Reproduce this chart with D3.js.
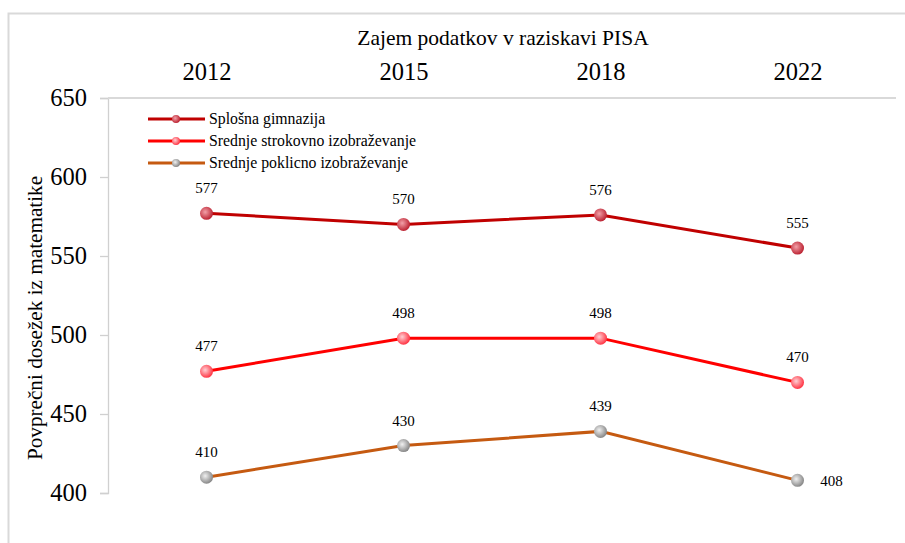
<!DOCTYPE html>
<html>
<head>
<meta charset="utf-8">
<script src="https://cdn.jsdelivr.net/npm/d3@7"></script>
<style>
  body { margin: 0; background: #fff; }
  svg, svg text { font-family: "Liberation Serif", "Times New Roman", serif; }
</style>
</head>
<body>
<svg id="chart" width="905" height="543"></svg>
<script>
// data
const years = ["2012", "2015", "2018", "2022"];
const seriesNames = ["Splošna gimnazija", "Srednje strokovno izobraževanje", "Srednje poklicno izobraževanje"];
const gimnazija = [577, 570, 576, 555];
const strokovno = [477, 498, 498, 470];
const poklicno = [410, 430, 439, 408];
const yTicks = [400, 450, 500, 550, 600, 650];

const svg = d3.select("#chart");
const colors = ["#c00000", "#ff0000", "#c55a11"];
const series = [gimnazija, strokovno, poklicno].map(function(v, i) {
    return {name: seriesNames[i], values: v, color: colors[i], key: "s" + i};
});

// marker gradients
const defs = svg.append("defs");
const grad = [
    ["s0", "#f2a0a8", "#b81a2a"],
    ["s1", "#ffd0d4", "#ff2a3a"],
    ["s2", "#f0f0f0", "#808080"]
];
grad.forEach(function(g) {
    let rg = defs.append("radialGradient").attr("id", "g" + g[0])
        .attr("cx", "40%").attr("cy", "40%").attr("r", "65%");
    rg.append("stop").attr("offset", "0%").attr("stop-color", g[1]);
    rg.append("stop").attr("offset", "100%").attr("stop-color", g[2]);
});

// outer frame
svg.append("rect").attr("x", 8.5).attr("y", 13.5).attr("width", 1000).attr("height", 1000)
   .attr("fill", "none").attr("stroke", "#d9d9d9").attr("stroke-width", 2);

let x = d3.scalePoint().domain(years).range([108, 896]).padding(0.5);
let y = d3.scaleLinear().domain([400, 650]).range([493, 98]);

// y axis
let yAxis = svg.append("g").attr("transform", "translate(108,0)")
   .call(d3.axisLeft(y).tickValues(yTicks).tickSize(8).tickPadding(13));
yAxis.attr("font-family", null);
yAxis.select(".domain").attr("stroke", "#d0d0d0").attr("stroke-width", 1.3);
yAxis.selectAll(".tick line").attr("stroke", "#d0d0d0").attr("stroke-width", 1.3);
yAxis.selectAll(".tick text").attr("font-size", 24.5).attr("fill", "#000");

// top axis (x)
let xAxis = svg.append("g").attr("transform", "translate(0,98)")
   .call(d3.axisTop(x).tickSize(0).tickPadding(18));
xAxis.attr("font-family", null);
xAxis.select(".domain").attr("d", "M108,0H896").attr("stroke", "#d9d9d9").attr("stroke-width", 2);
xAxis.selectAll(".tick text").attr("font-size", 24.5).attr("fill", "#000");

// titles
svg.append("text").attr("x", 503).attr("y", 45).attr("text-anchor", "middle")
   .attr("font-size", 21.5).text("Zajem podatkov v raziskavi PISA");
svg.append("text").attr("transform", "translate(42,318) rotate(-90)")
   .attr("text-anchor", "middle").attr("font-size", 21.2).text("Povprečni dosežek iz matematike");

// lines
let line = d3.line().x(function(d, i) { return x(years[i]) }).y(function(d) { return y(d) });
series.forEach(function(s) {
    svg.append("path").datum(s.values).attr("d", line)
       .attr("fill", "none").attr("stroke", s.color).attr("stroke-width", 3);
});

// markers and labels
series.forEach(function(s, si) {
    let g = svg.append("g");
    g.selectAll("circle").data(s.values).enter().append("circle")
     .attr("cx", function(d, i) { return x(years[i]) })
     .attr("cy", function(d) { return y(d) })
     .attr("r", 6.5)
     .attr("fill", "url(#g" + s.key + ")");
    g.selectAll("text").data(s.values).enter().append("text")
     .attr("x", function(d, i) { return (si == 2 && i == 3) ? x(years[i]) + 34 : x(years[i]) })
     .attr("y", function(d, i) { return (si == 2 && i == 3) ? y(d) + 6 : y(d) - 20 })
     .attr("text-anchor", "middle").attr("font-size", 15)
     .text(function(d) { return d });
});

// legend
let legend = svg.append("g").selectAll("g").data(series).enter().append("g")
   .attr("transform", function(d, i) { return "translate(148," + (119 + i * 22) + ")" });
legend.append("line").attr("x1", 0).attr("x2", 57).attr("stroke", function(d) { return d.color })
   .attr("stroke-width", 3);
legend.append("circle").attr("cx", 28).attr("r", 4).attr("fill", function(d) { return "url(#g" + d.key + ")" });
legend.append("text").attr("x", 61).attr("y", 5).attr("font-size", 15.8).text(function(d) { return d.name });
</script>
</body>
</html>
